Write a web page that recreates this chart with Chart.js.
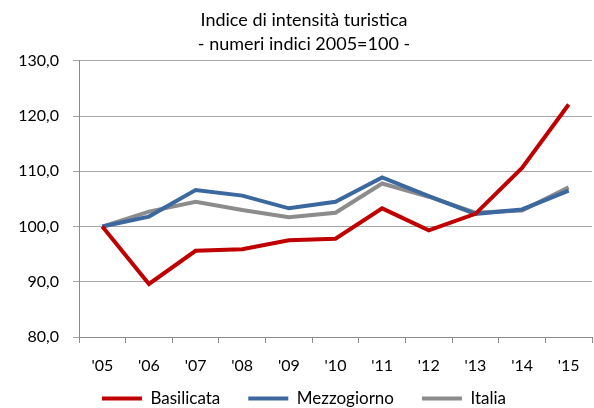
<!DOCTYPE html>
<html>
<head>
<meta charset="utf-8">
<script src="https://cdn.jsdelivr.net/npm/chart.js@4"></script>
<style>
  body { margin: 0; background: #fff; }
  #wrap { width: 594px; height: 408px; }
</style>
</head>
<body>
<div id="wrap"><canvas id="myChart"></canvas></div>
<script>
const years = ["'05", "'06", "'07", "'08", "'09", "'10", "'11", "'12", "'13", "'14", "'15"];
const basilicata = [100, 89.6, 95.6, 95.9, 97.5, 97.8, 103.3, 99.3, 102.3, 110.6, 122.1];
const mezzogiorno = [100, 101.8, 106.6, 105.6, 103.3, 104.5, 108.9, 105.5, 102.3, 103.1, 106.5];
const italia = [100, 102.7, 104.5, 103.0, 101.7, 102.5, 107.8, 105.4, 102.5, 102.9, 107.1];

const font = 'Lato, "Open Sans", sans-serif';
Chart.defaults.font.family = font;
Chart.defaults.color = '#000';

const ctx = document.getElementById('myChart').getContext('2d');
const myChart = new Chart(ctx, {
    type: 'line',
    data: {
        labels: years,
        datasets: [
            { label: 'Basilicata', data: basilicata, borderColor: '#C00000', backgroundColor: '#C00000', borderWidth: 4 },
            { label: 'Mezzogiorno', data: mezzogiorno, borderColor: '#3C68A0', backgroundColor: '#3C68A0', borderWidth: 4 },
            { label: 'Italia', data: italia, borderColor: '#8C8C8C', backgroundColor: '#8C8C8C', borderWidth: 4 }
        ]
    },
    options: {
        responsive: true,
        maintainAspectRatio: false,
        animation: false,
        layout: { padding: { left: 16, right: 2, top: 8, bottom: -9 } },
        elements: {
            line: { tension: 0 },
            point: { radius: 0 }
        },
        plugins: {
            title: {
                display: true,
                text: ['Indice di intensità turistica', '- numeri indici 2005=100 -'],
                font: { size: 18, weight: 'normal', lineHeight: 1.33 },
                padding: { top: 0, bottom: 5 }
            },
            legend: {
                position: 'bottom',
                labels: {
                    usePointStyle: true,
                    pointStyle: 'line',
                    pointStyleWidth: 40,
                    font: { size: 17 },
                    padding: 28
                }
            },
            tooltip: { enabled: false }
        },
        scales: {
            x: {
                offset: true,
                // short axis box so the legend sits close; mirror avoids label clipping
                afterFit: function (s) { s.height = 25; },
                grid: { offset: true, drawOnChartArea: false, drawTicks: true, tickLength: 6, color: '#8c8c8c' },
                border: { color: '#8c8c8c', width: 1 },
                ticks: { font: { size: 16 }, padding: -38, mirror: true, maxRotation: 0 }
            },
            y: {
                min: 80,
                max: 130,
                afterFit: function (s) { s.width = 63; },
                grid: { color: '#a6a6a6', tickLength: 6 },
                border: { color: '#8c8c8c', width: 1 },
                ticks: {
                    stepSize: 10,
                    font: { size: 16 },
                    padding: 14,
                    callback: function (v) { return v.toFixed(1).replace('.', ','); }
                }
            }
        }
    }
});
</script>
</body>
</html>
